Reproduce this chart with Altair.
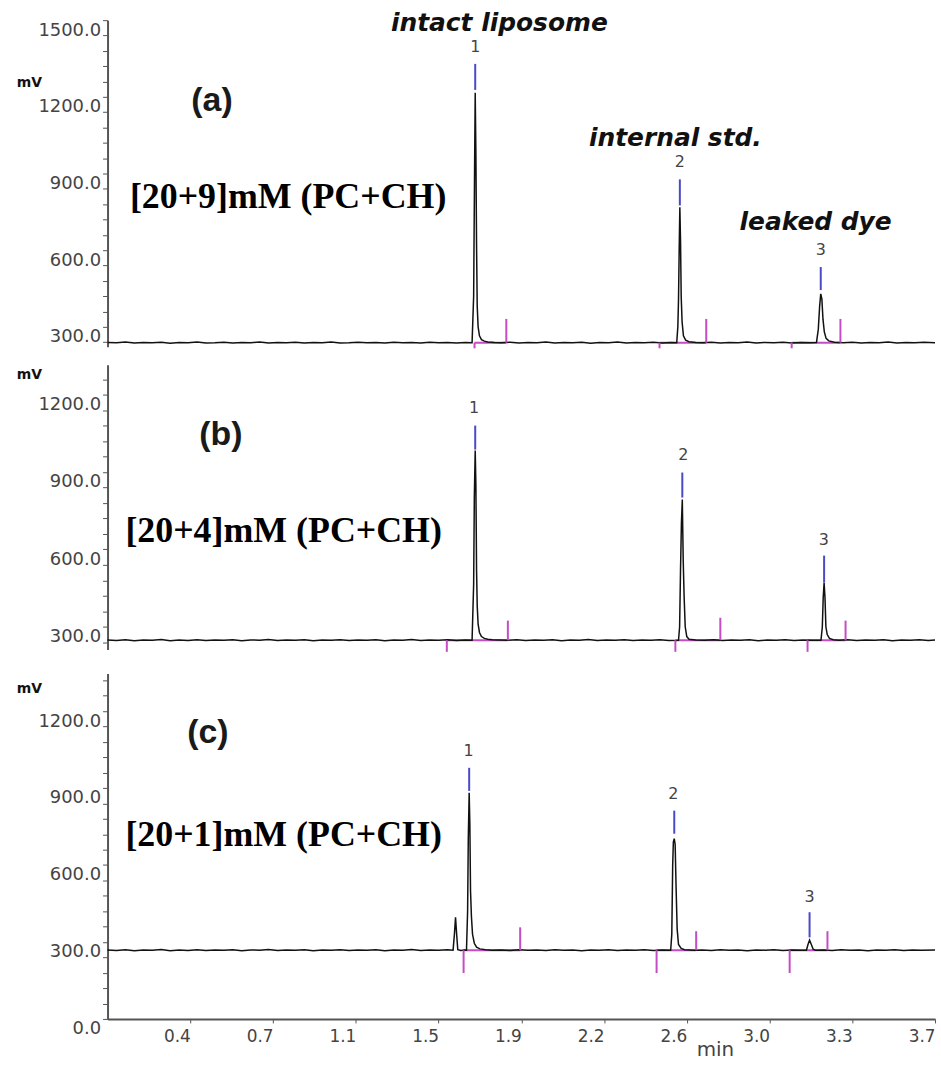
import altair as alt
import pandas as pd

# ---------------- data ----------------
x_ticks = [0.37, 0.74, 1.11, 1.48, 1.85, 2.22, 2.59, 2.96, 3.33, 3.70]

a_trace = [(0.00,239),(0.04,238),(0.08,241),(0.12,237),(0.16,239),(0.20,238),(0.24,240),(0.28,236),
           (0.32,239),(0.36,238),(0.40,241),(0.44,237),(0.48,238),(0.52,240),(0.56,237),(0.60,239),
           (0.64,238),(0.68,241),(0.72,237),(0.76,239),(0.80,238),(0.84,240),(0.88,237),(0.92,239),
           (0.96,238),(1.00,241),(1.04,237),(1.08,238),(1.12,240),(1.16,238),(1.20,239),(1.24,237),
           (1.28,240),(1.32,238),(1.36,239),(1.40,237),(1.44,240),(1.48,238),(1.52,239),(1.56,237),
           (1.60,239),(1.630,238),(1.637,420),(1.641,900),(1.644,1216),(1.647,980),(1.650,620),
           (1.653,380),(1.657,300),(1.663,265),(1.672,250),(1.685,244),(1.70,241),(1.73,239),
           (1.76,238),(1.80,240),(1.84,237),(1.88,239),(1.92,238),(1.96,241),(2.00,237),(2.04,239),
           (2.08,238),(2.12,240),(2.16,236),(2.20,239),(2.24,238),(2.28,241),(2.32,237),(2.36,239),
           (2.40,238),(2.44,240),(2.48,237),(2.52,239),(2.545,238),(2.550,300),(2.553,405),
           (2.556,600),(2.559,768),(2.562,640),(2.565,420),(2.569,320),(2.575,265),(2.585,248),
           (2.60,242),(2.63,239),(2.66,238),(2.70,240),(2.74,237),(2.78,239),(2.82,238),(2.86,241),
           (2.90,237),(2.94,239),(2.98,238),(3.02,240),(3.06,237),(3.10,239),(3.14,238),(3.170,239),
           (3.178,290),(3.184,380),(3.189,429),(3.194,410),(3.199,330),(3.205,280),(3.213,255),
           (3.225,245),(3.25,240),(3.29,238),(3.33,240),(3.37,237),(3.41,239),(3.45,238),(3.49,241),
           (3.53,237),(3.57,239),(3.61,238),(3.65,240),(3.70,238)]

b_trace = [(0.00,249),(0.04,247),(0.08,250),(0.12,246),(0.16,249),(0.20,248),(0.24,251),(0.28,246),
           (0.32,249),(0.36,247),(0.40,250),(0.44,247),(0.48,249),(0.52,248),(0.56,250),(0.60,246),
           (0.64,249),(0.68,248),(0.72,251),(0.76,247),(0.80,249),(0.84,248),(0.88,250),(0.92,246),
           (0.96,249),(1.00,248),(1.04,250),(1.08,247),(1.12,249),(1.16,248),(1.20,250),(1.24,246),
           (1.28,249),(1.32,248),(1.36,251),(1.40,247),(1.44,249),(1.48,248),(1.52,250),(1.56,247),
           (1.60,249),(1.630,248),(1.637,464),(1.640,800),(1.644,983),(1.647,850),(1.650,520),
           (1.653,380),(1.657,310),(1.663,278),(1.672,262),(1.685,255),(1.70,252),(1.72,250),
           (1.75,249),(1.79,248),(1.83,250),(1.87,247),(1.91,249),(1.95,248),(1.99,250),(2.03,246),
           (2.07,249),(2.11,248),(2.15,251),(2.19,247),(2.23,249),(2.27,248),(2.31,250),(2.35,247),
           (2.39,249),(2.43,248),(2.47,250),(2.51,247),(2.553,248),(2.558,300),(2.562,518),
           (2.566,700),(2.570,793),(2.574,560),(2.578,420),(2.583,300),(2.590,262),(2.60,252),
           (2.63,249),(2.67,248),(2.71,250),(2.75,247),(2.79,249),(2.83,248),(2.87,250),(2.91,246),
           (2.95,249),(2.99,248),(3.03,250),(3.07,247),(3.11,249),(3.15,248),(3.190,248),
           (3.196,298),(3.200,413),(3.204,471),(3.208,413),(3.212,300),(3.218,270),(3.228,255),
           (3.245,250),(3.27,248),(3.31,250),(3.35,247),(3.39,249),(3.43,248),(3.47,250),(3.51,246),
           (3.55,249),(3.59,248),(3.63,250),(3.67,247),(3.70,249)]

c_trace = [(0.00,269),(0.04,267),(0.08,270),(0.12,266),(0.16,269),(0.20,268),(0.24,271),(0.28,266),
           (0.32,269),(0.36,267),(0.40,270),(0.44,267),(0.48,269),(0.52,268),(0.56,270),(0.60,266),
           (0.64,269),(0.68,268),(0.72,271),(0.76,267),(0.80,269),(0.84,268),(0.88,270),(0.92,266),
           (0.96,269),(1.00,268),(1.04,270),(1.08,267),(1.12,269),(1.16,268),(1.20,270),(1.24,266),
           (1.28,269),(1.32,268),(1.36,271),(1.40,267),(1.44,269),(1.48,268),(1.52,270),(1.545,268),
           (1.551,330),(1.556,396),(1.561,330),(1.566,270),(1.58,267),(1.595,269),(1.605,268),
           (1.610,420),(1.613,700),(1.617,882),(1.620,760),(1.623,501),(1.627,400),(1.632,330),
           (1.640,295),(1.650,280),(1.665,273),(1.69,270),(1.72,268),(1.76,269),(1.80,267),
           (1.84,270),(1.88,268),(1.92,269),(1.96,267),(2.00,270),(2.04,268),(2.08,269),(2.12,266),
           (2.16,269),(2.20,268),(2.24,270),(2.28,267),(2.32,269),(2.36,268),(2.40,270),(2.44,267),
           (2.48,269),(2.518,268),(2.523,330),(2.527,600),(2.530,690),(2.534,703),(2.538,680),
           (2.542,520),(2.547,350),(2.553,290),(2.565,275),(2.58,270),(2.62,268),(2.66,269),
           (2.70,267),(2.74,270),(2.78,268),(2.82,269),(2.86,266),(2.90,269),(2.94,268),(2.98,270),
           (3.02,267),(3.06,269),(3.10,268),(3.125,268),(3.132,290),(3.139,307),(3.146,292),
           (3.155,272),(3.165,268),(3.20,269),(3.24,267),(3.28,270),(3.32,268),(3.36,269),
           (3.40,266),(3.44,269),(3.48,268),(3.52,270),(3.56,267),(3.60,269),(3.64,268),(3.70,269)]

# peak apex markers (blue): t, low, high ; peak number labels: t, mV
a_apex_t = [1.644, 2.559, 3.189]; a_apex_lo = [1227, 775, 444]; a_apex_hi = [1329, 877, 534]
b_apex_t = [1.644, 2.570, 3.204]; b_apex_lo = [987, 801, 471];  b_apex_hi = [1080, 898, 576]
c_apex_t = [1.617, 2.534, 3.139]; c_apex_lo = [889, 722, 318];  c_apex_hi = [979, 812, 416]
peak_names = ["1", "2", "3"]
a_lab_t = [1.644, 2.559, 3.189]; a_lab_mv = [1395, 945, 600]
b_lab_t = [1.639, 2.574, 3.203]; b_lab_mv = [1150, 967, 638]
c_lab_t = [1.614, 2.530, 3.139]; c_lab_mv = [1045, 878, 474]

# integration markers (magenta): starts (down ticks), ends (up ticks), baseline level
a_start = [1.641, 2.468, 3.059]; a_end = [1.783, 2.677, 3.277]
a_base = 238; a_up = [331, 331, 331]; a_down = [216, 216, 216]
b_start = [1.517, 2.539, 3.130]; b_end = [1.790, 2.740, 3.300]
b_base = 248; b_up = [324, 335, 324]; b_down = [203, 203, 203]
c_start = [1.592, 2.455, 3.050]; c_end = [1.845, 2.632, 3.219]
c_base = 268; c_up = [357, 342, 342]; c_down = [179, 179, 179]

panel_tags = ["(a)", "(b)", "(c)"]
tag_t = [0.467, 0.507, 0.449]; tag_mv = [1184, 1045, 1115]
conc_labels = ["[20+9]mM (PC+CH)", "[20+4]mM (PC+CH)", "[20+1]mM (PC+CH)"]
conc_t = [0.100, 0.080, 0.080]; conc_mv = [807, 673, 715]
notes = ["intact liposome", "internal std.", "leaked dye"]
notes_t = [1.752, 2.539, 3.166]; notes_mv = [1488, 1040, 709]

# ---------------- styling ----------------
W = 831
AX = "#555555"
LAB = "#444444"
BLUE = "#4a4ac8"
MAG = "#c44cc4"


def ytick_values(lo, hi):
    return [v for v in range(0, 1560, 60) if lo <= v <= hi]


def panel(trace, ydom, height, apex, labs, integ, tag, conc, title_y, show_x, extra=None):
    xaxis = None
    if show_x:
        xaxis = alt.Axis(values=x_ticks, format=".1f", labelAlign="right", labelFont="DejaVu Sans",
                         labelFontSize=17, labelColor=LAB, labelPadding=6, tickSize=4,
                         tickColor=AX, domainColor=AX, domainWidth=2, grid=False,
                         title="min", titleFont="DejaVu Sans", titleFontSize=20,
                         titleFontWeight="normal", titleColor=LAB, titleX=610, titleY=31,
                         titleBaseline="middle", titleAlign="center")
    yaxis = alt.Axis(values=ytick_values(ydom[0], ydom[1]),
                     labelExpr="datum.value % 300 == 0 ? format(datum.value, '.1f') : ''",
                     labelFont="DejaVu Sans", labelFontSize=18, labelColor=LAB, labelOffset=10,
                     labelPadding=2, tickSize=5, tickColor=AX, domainColor=AX, domainWidth=2,
                     grid=False, title="mV", titleAngle=0, titleX=-79, titleY=title_y,
                     titleAlign="center", titleBaseline="middle", titleFont="DejaVu Sans",
                     titleFontSize=14, titleFontWeight="bold", titleColor="#111")
    xs = alt.Scale(domain=[0, 3.7], nice=False, zero=False)
    ys = alt.Scale(domain=ydom, nice=False, zero=False)

    def X(f="t"):
        return alt.X(f"{f}:Q", scale=xs, axis=xaxis)

    def Y(f="mv"):
        return alt.Y(f"{f}:Q", scale=ys, axis=yaxis)

    tdf = pd.DataFrame(trace, columns=["t", "mv"])
    at, alo, ahi = apex
    apex_df = pd.DataFrame({"t": at, "mv": alo, "mv2": ahi})
    lt, lmv = labs
    lab_df = pd.DataFrame({"t": lt, "mv": lmv, "label": peak_names})
    st, en, base, up, down = integ
    seg_df = pd.DataFrame({"t": st, "t2": en, "mv": [base] * len(st)})
    up_df = pd.DataFrame({"t": en, "mv": [base] * len(en), "mv2": up})
    down_df = pd.DataFrame({"t": st, "mv": down, "mv2": [base] * len(st)})

    layers = [
        alt.Chart(seg_df).mark_rule(color=MAG, strokeWidth=2).encode(x=X(), x2="t2:Q", y=Y()),
        alt.Chart(tdf).mark_line(color="#111111", strokeWidth=1.5).encode(x=X(), y=Y()),
        alt.Chart(up_df).mark_rule(color=MAG, strokeWidth=2).encode(x=X(), y=Y(), y2="mv2:Q"),
        alt.Chart(down_df).mark_rule(color=MAG, strokeWidth=2).encode(x=X(), y=Y(), y2="mv2:Q"),
        alt.Chart(apex_df).mark_rule(color=BLUE, strokeWidth=2).encode(x=X(), y=Y(), y2="mv2:Q"),
        alt.Chart(lab_df).mark_text(font="DejaVu Sans", fontSize=16, color=LAB,
                                    baseline="middle").encode(x=X(), y=Y(), text="label:N"),
    ]
    tg_t, tg_mv, tg = tag
    layers.append(alt.Chart(pd.DataFrame({"t": [tg_t], "mv": [tg_mv], "label": [tg]}))
                  .mark_text(font="Liberation Sans", fontSize=34, fontWeight="bold",
                             color="#1a1a1a", baseline="middle")
                  .encode(x=X(), y=Y(), text="label:N"))
    c_t, c_mv, c_lab = conc
    layers.append(alt.Chart(pd.DataFrame({"t": [c_t], "mv": [c_mv], "label": [c_lab]}))
                  .mark_text(font="Liberation Serif", fontSize=36, fontWeight="bold",
                             color="#000000", baseline="middle", align="left")
                  .encode(x=X(), y=Y(), text="label:N"))
    if extra is not None:
        layers.append(alt.Chart(extra)
                      .mark_text(font="DejaVu Sans", fontSize=25, fontWeight="bold",
                                 fontStyle="italic", color="#111111", baseline="middle")
                      .encode(x=X(), y=Y(), text="label:N"))
    return alt.layer(*layers).properties(width=W, height=height)


notes_df = pd.DataFrame({"t": notes_t, "mv": notes_mv, "label": notes})

pa = panel(a_trace, [222, 1500], 328, (a_apex_t, a_apex_lo, a_apex_hi), (a_lab_t, a_lab_mv),
           (a_start, a_end, a_base, a_up, a_down), (tag_t[0], tag_mv[0], panel_tags[0]),
           (conc_t[0], conc_mv[0], conc_labels[0]), 63, False, notes_df)
pb = panel(b_trace, [212, 1316], 286, (b_apex_t, b_apex_lo, b_apex_hi), (b_lab_t, b_lab_mv),
           (b_start, b_end, b_base, b_up, b_down), (tag_t[1], tag_mv[1], panel_tags[1]),
           (conc_t[1], conc_mv[1], conc_labels[1]), 10, False)
pc = panel(c_trace, [0, 1347], 347, (c_apex_t, c_apex_lo, c_apex_hi), (c_lab_t, c_lab_mv),
           (c_start, c_end, c_base, c_up, c_down), (tag_t[2], tag_mv[2], panel_tags[2]),
           (conc_t[2], conc_mv[2], conc_labels[2]), 15, True)

chart = alt.vconcat(alt.vconcat(pa, pb, spacing=15), pc, spacing=20).properties(
    padding={"left": 16, "top": 9, "right": 3, "bottom": 0},
    background="white"
).configure_view(strokeWidth=0)

chart.save("out.html", embed_options={"renderer": "svg", "actions": False})
